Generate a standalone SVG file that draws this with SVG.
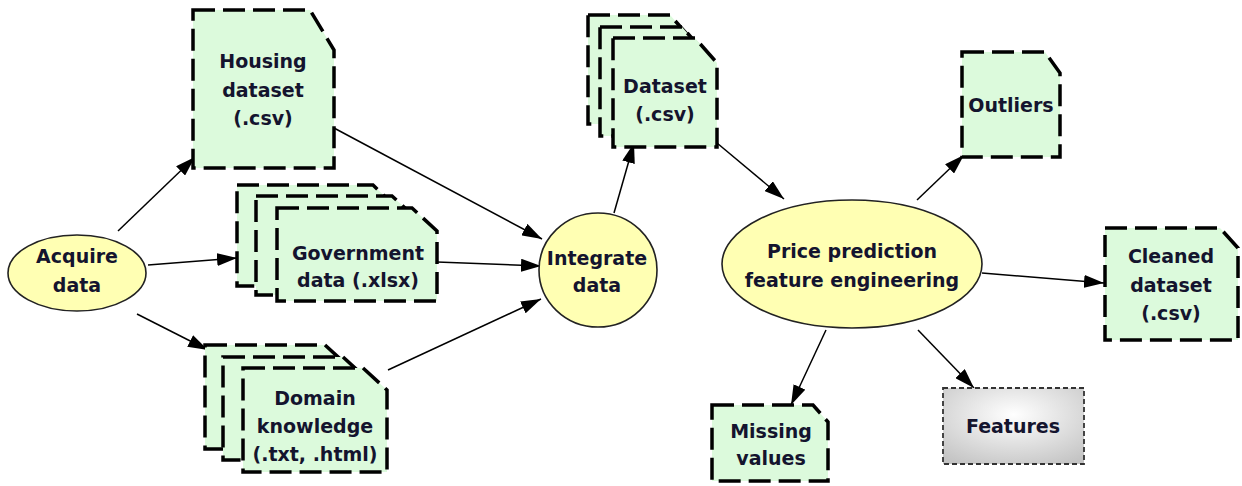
<svg xmlns="http://www.w3.org/2000/svg" width="1242" height="486" viewBox="0 0 1242 486">
<style>
.doc{fill:#dcfadc;stroke:#000;stroke-width:3.5;stroke-dasharray:22 8;stroke-linejoin:miter}
.proc{fill:#ffffb3;stroke:#222;stroke-width:1.6}
.feat{fill:url(#gray);stroke:#333;stroke-width:1.8;stroke-dasharray:5 3}
text{font-family:"DejaVu Sans","Liberation Sans",sans-serif;font-weight:bold;font-size:19px;fill:#14142e;text-anchor:middle}
.conn line{stroke:#000;stroke-width:1.5;marker-end:url(#arr)}
</style>
<defs>
<marker id="arr" markerUnits="userSpaceOnUse" viewBox="0 0 20 13" refX="20" refY="6.5" markerWidth="20" markerHeight="13" orient="auto">
<path d="M0,0 L20,6.5 L0,13 Z" fill="#000"/>
</marker>
<radialGradient id="gray" cx="50%" cy="35%" r="75%">
<stop offset="0" stop-color="#ffffff"/>
<stop offset="1" stop-color="#c4c4c4"/>
</radialGradient>
</defs>
<rect width="1242" height="486" fill="#fff"/>
<g class="conn" id="connectors">
<line x1="118" y1="231" x2="195" y2="157"/>
<line x1="148" y1="265" x2="237" y2="258"/>
<line x1="137" y1="314" x2="208" y2="350"/>
<line x1="334" y1="128" x2="542" y2="239"/>
<line x1="437" y1="262" x2="541" y2="266"/>
<line x1="388" y1="370" x2="541" y2="299"/>
<line x1="614" y1="213" x2="634" y2="143"/>
<line x1="717" y1="143" x2="784" y2="199"/>
<line x1="917" y1="200" x2="964" y2="155"/>
<line x1="982" y1="273" x2="1104" y2="283"/>
<line x1="826" y1="330" x2="791" y2="405"/>
<line x1="918" y1="330" x2="974" y2="388"/>
</g>
<g id="acquire">
<ellipse class="proc" cx="77" cy="273" rx="69" ry="38"/>
<text x="77" y="263">Acquire</text>
<text x="77" y="292">data</text>
</g>
<g id="housing">
<path class="doc" d="M193,10 H310 L334,50 V168 H193 Z"/>
<text x="263" y="68">Housing</text>
<text x="263" y="97">dataset</text>
<text x="263" y="125">(.csv)</text>
</g>
<g id="government">
<path class="doc" d="M237,185 H373 L397,208 V286 H237 Z"/>
<path class="doc" d="M256,196 H392 L417,219 V295 H256 Z"/>
<path class="doc" d="M277,208 H412 L437,231 V301 H277 Z"/>
<text x="358" y="260">Government</text>
<text x="358" y="287">data (.xlsx)</text>
</g>
<g id="domain">
<path class="doc" d="M205,345 H325 L349,367 V449 H205 Z"/>
<path class="doc" d="M223,357 H343 L367,379 V460 H223 Z"/>
<path class="doc" d="M243,368 H363 L387,390 V472 H243 Z"/>
<text x="315" y="405">Domain</text>
<text x="315" y="433">knowledge</text>
<text x="315" y="461">(.txt, .html)</text>
</g>
<g id="integrate">
<ellipse class="proc" cx="598" cy="270" rx="59" ry="57"/>
<text x="597" y="265">Integrate</text>
<text x="597" y="292">data</text>
</g>
<g id="dataset">
<path class="doc" d="M588,15 H670 L692,40 V124 H588 Z"/>
<path class="doc" d="M600,27 H682 L704,52 V136 H600 Z"/>
<path class="doc" d="M613,38 H695 L717,63 V147 H613 Z"/>
<text x="665" y="93">Dataset</text>
<text x="665" y="121">(.csv)</text>
</g>
<g id="price">
<ellipse class="proc" cx="852" cy="264" rx="130" ry="64"/>
<text x="852" y="258">Price prediction</text>
<text x="852" y="287">feature engineering</text>
</g>
<g id="outliers">
<path class="doc" d="M962,52 H1045 L1060,73 V157 H962 Z"/>
<text x="1011" y="112">Outliers</text>
</g>
<g id="cleaned">
<path class="doc" d="M1105,228 H1220 L1238,248 V340 H1105 Z"/>
<text x="1171" y="263">Cleaned</text>
<text x="1171" y="292">dataset</text>
<text x="1171" y="320">(.csv)</text>
</g>
<g id="missing">
<path class="doc" d="M712,405 H813 L828,422 V481 H712 Z"/>
<text x="771" y="438">Missing</text>
<text x="771" y="465">values</text>
</g>
<g id="features">
<rect class="feat" x="943" y="388" width="141" height="76"/>
<text x="1013" y="433">Features</text>
</g>
</svg>
